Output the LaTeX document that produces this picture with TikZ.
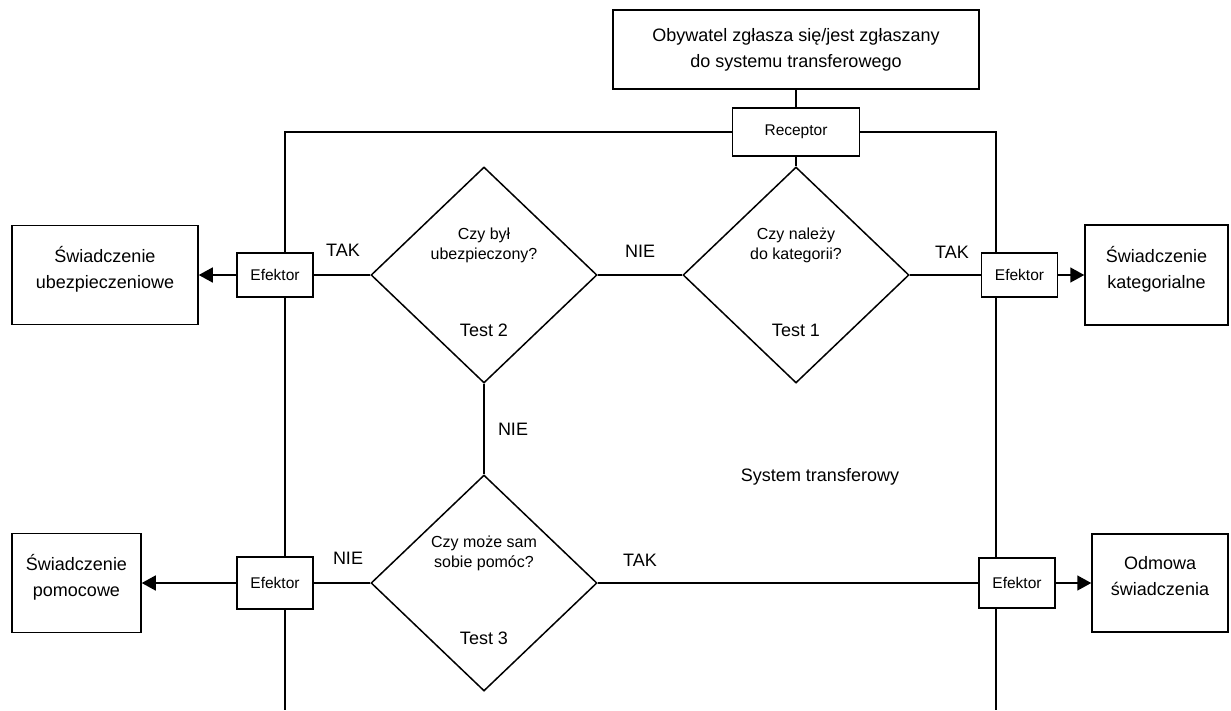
\documentclass[tikz,border=0pt]{standalone}
\usepackage{fontspec}
\setmainfont{Liberation Sans}
\usepackage{tikz}
\usetikzlibrary{shapes,arrows,positioning,calc,arrows.meta}

\begin{document}
\begin{tikzpicture}[x=1pt,y=-1pt,line width=1.5pt,
    box/.style={draw,align=center,inner sep=0pt,font=\fontsize{18}{26}\selectfont},
    outbox/.style={box,text depth=15pt},
    efektor/.style={draw,fill=white,inner sep=0pt,minimum width=76pt,minimum height=44pt,font=\fontsize{15.5}{18}\selectfont},
    test/.style={draw,diamond,inner sep=0pt,minimum width=226pt,minimum height=216pt},
    question/.style={align=center,font=\fontsize{16}{20}\selectfont},
    answer/.style={font=\fontsize{18}{20}\selectfont},
    arr/.style={-{Triangle[length=14pt,width=15pt]}}]
    \useasboundingbox (0,0) rectangle (1231,710);

    % Wejscie
    \node[box,minimum width=366pt,minimum height=79pt] (obywatel) at (796,49.5) {Obywatel zgłasza się/jest zgłaszany\\do systemu transferowego};
    \node[box,font=\fontsize{15.5}{18}\selectfont,minimum width=127pt,minimum height=48pt] (receptor) at (796,132) {Receptor};
    \draw (obywatel) -- (receptor);

    % Granica systemu
    \coordinate (sysL) at (285,710);
    \coordinate (sysR) at (996,710);
    \draw (receptor.west) -| (sysL);
    \draw (receptor.east) -| (sysR);
    \node (system) at (820,477) {\fontsize{18}{20}\selectfont System transferowy};

    % Testy
    \node[test] (test1) at (796,275) {};
    \node[test] (test2) at (484,275) {};
    \node[test] (test3) at (484,583) {};
    \foreach \t/\q in {1/{Czy należy\\do kategorii?}, 2/{Czy był\\ubezpieczony?}, 3/{Czy może sam\\sobie pomóc?}} {
        \node[question] (q\t) at ([yshift=30pt]test\t.center) {\q};
        \node[answer] (nr\t) at ([yshift=-55pt]test\t.center) {Test \t};
    }

    % Efektory
    \node[efektor] (ef1) at (275,275) {Efektor};
    \node[efektor] (ef2) at (1019.5,275) {Efektor};
    \node[efektor,minimum height=52pt] (ef3) at (275,583) {Efektor};
    \node[efektor,minimum height=50pt] (ef4) at (1017,583) {Efektor};

    % Swiadczenia
    \node[outbox,minimum width=186pt,minimum height=99pt] (ubezp) at (105,275) {Świadczenie\\ubezpieczeniowe};
    \node[outbox,minimum width=143pt,minimum height=100pt] (kateg) at (1156.5,275) {Świadczenie\\kategorialne};
    \node[outbox,minimum width=129pt,minimum height=99pt] (pomoc) at (76.5,583) {Świadczenie\\pomocowe};
    \node[outbox,minimum width=136pt,minimum height=98pt] (odmowa) at (1160,583) {Odmowa\\świadczenia};

    % Polaczenia
    \draw (receptor) -- (test1);
    \draw (test1.west) -- (test2.east);
    \draw (test1.east) -- (ef2.west);
    \draw (test2.west) -- (ef1.east);
    \draw (test2.south) -- (test3.north);
    \draw (test3.west) -- (ef3.east);
    \draw (test3.east) -- (ef4.west);
    \draw[arr] (ef1.west) -- (ubezp.east);
    \draw[arr] (ef2.east) -- (kateg.west);
    \draw[arr] (ef3.west) -- (pomoc.east);
    \draw[arr] (ef4.east) -- (odmowa.west);

    % Odpowiedzi
    \node[answer] (tak2) at (343,250) {TAK};
    \node[answer] (nie1) at (640,251) {NIE};
    \node[answer] (tak1) at (952,252) {TAK};
    \node[answer] (nie2) at (513,429) {NIE};
    \node[answer] (nie3) at (348,558) {NIE};
    \node[answer] (tak3) at (640,560) {TAK};
\end{tikzpicture}
\end{document}
